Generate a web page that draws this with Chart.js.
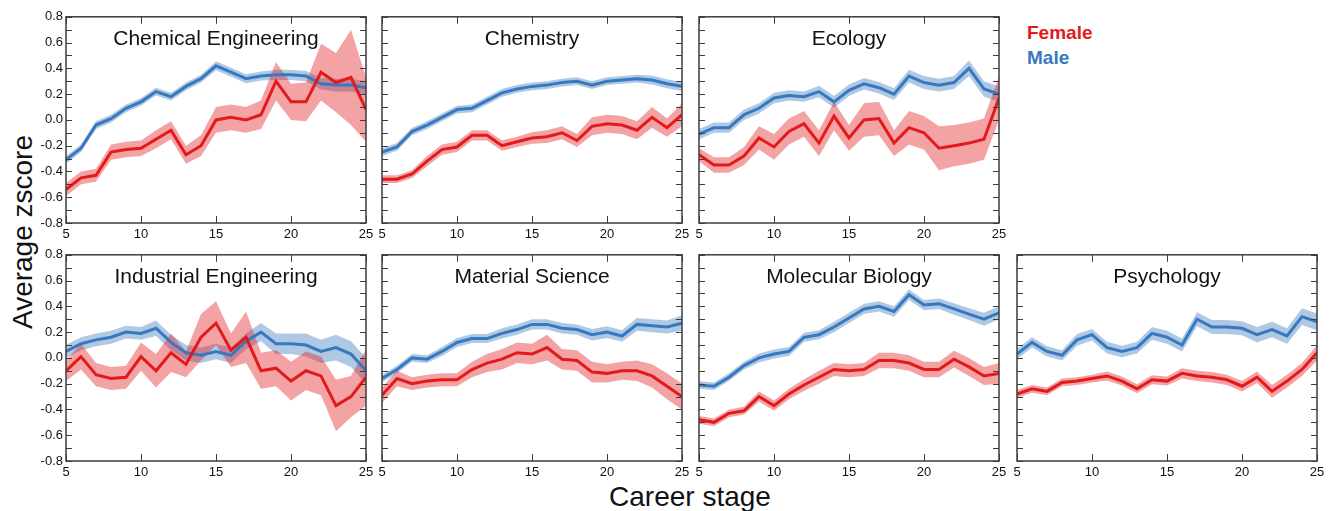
<!DOCTYPE html>
<html>
<head>
<meta charset="utf-8">
<script src="https://cdn.jsdelivr.net/npm/chart.js@4/dist/chart.umd.min.js"></script>
<style>
  html, body { margin: 0; padding: 0; background: #fff; }
  #wrap { position: relative; width: 1334px; height: 511px; overflow: hidden; font-family: "Liberation Sans", Arial, sans-serif; }
  canvas { position: absolute; }
  .lab { position: absolute; white-space: nowrap; color: #111; }
</style>
</head>
<body>
<div id="wrap">
  <div class="lab" id="ylab" style="left:23px; top:232px; font-size:28px; transform: translate(-50%,-50%) rotate(-90deg);">Average zscore</div>
  <div class="lab" id="xlab" style="left:690px; top:497px; font-size:28px; transform: translate(-50%,-50%);">Career stage</div>
  <div class="lab" style="left:1027px; top:33px; font-size:19px; font-weight:bold; color:#e31a1c; transform: translateY(-50%);">Female</div>
  <div class="lab" style="left:1027px; top:58px; font-size:19px; font-weight:bold; color:#3778bf; transform: translateY(-50%);">Male</div>
</div>
<script>
// ---------------- DATA ----------------
const careerStage = [5,6,7,8,9,10,11,12,13,14,15,16,17,18,19,20,21,22,23,24,25];
const yTickMin = -0.8, yTickMax = 0.8;
const xTicks = [5, 10, 15, 20, 25];
const seriesNames = ["Female", "Male"];

const chemEngFemale    = [-0.54,-0.45,-0.43,-0.25,-0.23,-0.22,-0.15,-0.08,-0.27,-0.20,0.00,0.02,0.00,0.04,0.30,0.14,0.14,0.37,0.29,0.33,0.08];
const chemEngFemaleErr = [0.05,0.05,0.05,0.06,0.06,0.06,0.07,0.07,0.07,0.08,0.10,0.10,0.10,0.11,0.15,0.14,0.15,0.22,0.23,0.37,0.25];
const chemEngMale      = [-0.31,-0.22,-0.04,0.01,0.09,0.14,0.22,0.18,0.26,0.32,0.42,0.37,0.32,0.34,0.35,0.35,0.34,0.28,0.27,0.27,0.25];
const chemEngMaleErr   = [0.03,0.03,0.03,0.03,0.03,0.03,0.03,0.03,0.03,0.03,0.035,0.035,0.035,0.035,0.04,0.04,0.04,0.045,0.05,0.05,0.05];

const chemistryFemale    = [-0.46,-0.46,-0.42,-0.32,-0.23,-0.21,-0.12,-0.12,-0.20,-0.17,-0.14,-0.13,-0.10,-0.16,-0.05,-0.03,-0.04,-0.08,0.02,-0.06,0.04];
const chemistryFemaleErr = [0.03,0.03,0.03,0.04,0.04,0.04,0.04,0.04,0.04,0.04,0.045,0.05,0.05,0.05,0.07,0.07,0.07,0.07,0.08,0.07,0.09];
const chemistryMale      = [-0.25,-0.21,-0.09,-0.04,0.02,0.08,0.09,0.15,0.21,0.24,0.26,0.27,0.29,0.30,0.27,0.30,0.31,0.32,0.31,0.28,0.26];
const chemistryMaleErr   = [0.03,0.03,0.03,0.03,0.03,0.03,0.03,0.03,0.03,0.03,0.03,0.03,0.03,0.03,0.03,0.03,0.03,0.03,0.035,0.035,0.035];

const ecologyFemale    = [-0.27,-0.35,-0.35,-0.28,-0.14,-0.21,-0.09,-0.03,-0.18,0.03,-0.14,0.00,0.01,-0.18,-0.06,-0.10,-0.22,-0.20,-0.18,-0.15,0.17];
const ecologyFemaleErr = [0.05,0.06,0.06,0.07,0.09,0.10,0.10,0.10,0.10,0.11,0.10,0.13,0.13,0.10,0.13,0.13,0.17,0.16,0.16,0.16,0.17];
const ecologyMale      = [-0.11,-0.06,-0.06,0.04,0.09,0.17,0.19,0.18,0.22,0.14,0.23,0.28,0.25,0.20,0.34,0.29,0.27,0.29,0.40,0.24,0.20];
const ecologyMaleErr   = [0.04,0.04,0.04,0.04,0.04,0.04,0.04,0.04,0.045,0.045,0.045,0.045,0.045,0.045,0.05,0.05,0.05,0.05,0.06,0.06,0.06];

const industrialFemale    = [-0.10,0.01,-0.13,-0.16,-0.15,0.01,-0.10,0.04,-0.05,0.16,0.27,0.06,0.16,-0.10,-0.08,-0.18,-0.10,-0.14,-0.37,-0.30,-0.15];
const industrialFemaleErr = [0.08,0.10,0.09,0.09,0.09,0.11,0.13,0.15,0.10,0.18,0.17,0.13,0.20,0.14,0.14,0.15,0.15,0.15,0.20,0.16,0.22];
const industrialMale      = [0.05,0.11,0.14,0.16,0.20,0.19,0.23,0.12,0.04,0.02,0.05,0.02,0.13,0.20,0.11,0.11,0.10,0.05,0.08,0.03,-0.10];
const industrialMaleErr   = [0.05,0.05,0.05,0.05,0.05,0.05,0.06,0.06,0.06,0.06,0.06,0.06,0.06,0.07,0.08,0.08,0.09,0.09,0.10,0.10,0.10];

const materialFemale    = [-0.29,-0.16,-0.20,-0.18,-0.17,-0.17,-0.09,-0.04,-0.01,0.04,0.03,0.08,-0.01,-0.02,-0.11,-0.12,-0.10,-0.10,-0.14,-0.22,-0.30];
const materialFemaleErr = [0.06,0.06,0.05,0.05,0.05,0.05,0.06,0.07,0.08,0.08,0.08,0.10,0.08,0.08,0.08,0.07,0.07,0.08,0.09,0.10,0.10];
const materialMale      = [-0.16,-0.09,0.00,-0.01,0.05,0.12,0.15,0.15,0.19,0.22,0.26,0.26,0.23,0.22,0.18,0.20,0.17,0.26,0.25,0.24,0.27];
const materialMaleErr   = [0.03,0.03,0.03,0.03,0.035,0.035,0.035,0.035,0.04,0.04,0.04,0.04,0.04,0.04,0.045,0.045,0.045,0.05,0.05,0.05,0.06];

const molbioFemale    = [-0.48,-0.50,-0.43,-0.41,-0.30,-0.37,-0.28,-0.21,-0.15,-0.09,-0.10,-0.09,-0.02,-0.02,-0.04,-0.09,-0.09,-0.01,-0.07,-0.14,-0.12];
const molbioFemaleErr = [0.03,0.03,0.03,0.03,0.04,0.04,0.04,0.045,0.05,0.05,0.05,0.05,0.06,0.06,0.06,0.06,0.06,0.065,0.07,0.07,0.08];
const molbioMale      = [-0.21,-0.22,-0.15,-0.06,0.00,0.03,0.05,0.16,0.18,0.24,0.31,0.38,0.40,0.36,0.49,0.41,0.42,0.38,0.34,0.30,0.35];
const molbioMaleErr   = [0.03,0.03,0.03,0.03,0.035,0.035,0.035,0.035,0.035,0.04,0.04,0.04,0.04,0.04,0.04,0.04,0.04,0.045,0.045,0.05,0.05];

const psychFemale    = [-0.28,-0.24,-0.26,-0.19,-0.18,-0.16,-0.14,-0.18,-0.24,-0.17,-0.18,-0.12,-0.14,-0.15,-0.17,-0.22,-0.15,-0.26,-0.18,-0.09,0.04];
const psychFemaleErr = [0.03,0.03,0.03,0.03,0.03,0.03,0.035,0.035,0.035,0.035,0.035,0.04,0.04,0.04,0.04,0.04,0.045,0.05,0.05,0.05,0.06];
const psychMale      = [0.03,0.12,0.05,0.02,0.14,0.18,0.08,0.05,0.08,0.19,0.16,0.10,0.30,0.24,0.24,0.23,0.18,0.22,0.17,0.32,0.28];
const psychMaleErr   = [0.04,0.04,0.04,0.04,0.045,0.045,0.045,0.045,0.045,0.05,0.05,0.05,0.055,0.055,0.055,0.055,0.06,0.06,0.06,0.065,0.065];

const panelTitles = ["Chemical Engineering", "Chemistry", "Ecology", "Industrial Engineering", "Material Science", "Molecular Biology", "Psychology"];

// ---------------- STYLE / LAYOUT ----------------
const RED = '#e31a1c', BLUE = '#3778bf';
const RED_BAND = 'rgba(227,26,28,0.40)', BLUE_BAND = 'rgba(55,120,191,0.40)';
const FONT = '"Liberation Sans", Arial, sans-serif';
const colLeft = [66, 382, 699, 1017];
const rowTop = [14, 252];
const PW = 300, PH = 209;
const PADL = 44, PADT = 8, PADR = 14, PADB = 24;

const panels = [
  { title: panelTitles[0], f: chemEngFemale, fe: chemEngFemaleErr, m: chemEngMale, me: chemEngMaleErr, col: 0, row: 0 },
  { title: panelTitles[1], f: chemistryFemale, fe: chemistryFemaleErr, m: chemistryMale, me: chemistryMaleErr, col: 1, row: 0 },
  { title: panelTitles[2], f: ecologyFemale, fe: ecologyFemaleErr, m: ecologyMale, me: ecologyMaleErr, col: 2, row: 0 },
  { title: panelTitles[3], f: industrialFemale, fe: industrialFemaleErr, m: industrialMale, me: industrialMaleErr, col: 0, row: 1 },
  { title: panelTitles[4], f: materialFemale, fe: materialFemaleErr, m: materialMale, me: materialMaleErr, col: 1, row: 1 },
  { title: panelTitles[5], f: molbioFemale, fe: molbioFemaleErr, m: molbioMale, me: molbioMaleErr, col: 2, row: 1 },
  { title: panelTitles[6], f: psychFemale, fe: psychFemaleErr, m: psychMale, me: psychMaleErr, col: 3, row: 1 },
];

const framePlugin = {
  id: 'frame',
  afterDatasetsDraw(chart) {
    const { ctx, chartArea: a, scales } = chart;
    ctx.save();
    ctx.strokeStyle = '#3c3c3c';
    ctx.lineWidth = 1;
    // inward ticks on y (both sides)
    scales.y.ticks.forEach(t => {
      const y = Math.round(scales.y.getPixelForValue(t.value)) + 0.5;
      ctx.beginPath();
      ctx.moveTo(a.left, y); ctx.lineTo(a.left + 6, y);
      ctx.moveTo(a.right, y); ctx.lineTo(a.right - 6, y);
      ctx.stroke();
    });
    // inward ticks on x (top and bottom)
    scales.x.ticks.forEach(t => {
      const x = Math.round(scales.x.getPixelForValue(t.value)) + 0.5;
      ctx.beginPath();
      ctx.moveTo(x, a.top); ctx.lineTo(x, a.top + 7);
      ctx.moveTo(x, a.bottom); ctx.lineTo(x, a.bottom - 7);
      ctx.stroke();
    });
    ctx.lineWidth = 1.5;
    ctx.strokeRect(a.left, a.top, a.width, a.height);
    // panel title
    ctx.fillStyle = '#111';
    ctx.font = '21px ' + FONT;
    ctx.textAlign = 'center';
    ctx.textBaseline = 'middle';
    ctx.fillText(chart.options.plugins.frame.title, (a.left + a.right) / 2, a.top + 22);
    ctx.restore();
  }
};

const wrap = document.getElementById('wrap');
panels.forEach((p, idx) => {
  const cv = document.createElement('canvas');
  const w = PW + PADL + PADR, h = PH + PADT + PADB;
  cv.width = w; cv.height = h;
  cv.style.left = (colLeft[p.col] - PADL) + 'px';
  cv.style.top = (rowTop[p.row] - PADT) + 'px';
  cv.style.width = w + 'px'; cv.style.height = h + 'px';
  wrap.appendChild(cv);
  const showY = p.col === 0;
  const pts = (vals) => careerStage.map((x, i) => ({ x, y: vals[i] }));
  const band = (vals, err, s) => careerStage.map((x, i) => ({ x, y: vals[i] + s * err[i] }));
  const common = { pointRadius: 0, pointHoverRadius: 0, tension: 0 };
  new Chart(cv, {
    type: 'line',
    data: {
      datasets: [
        { label: seriesNames[0], data: pts(p.f), borderColor: RED, borderWidth: 3, fill: false, ...common },
        { label: seriesNames[1], data: pts(p.m), borderColor: BLUE, borderWidth: 3, fill: false, ...common },
        { label: 'F hi', data: band(p.f, p.fe, 1), borderWidth: 0, borderColor: 'rgba(0,0,0,0)', backgroundColor: RED_BAND, fill: '+1', ...common },
        { label: 'F lo', data: band(p.f, p.fe, -1), borderWidth: 0, borderColor: 'rgba(0,0,0,0)', fill: false, ...common },
        { label: 'M hi', data: band(p.m, p.me, 1), borderWidth: 0, borderColor: 'rgba(0,0,0,0)', backgroundColor: BLUE_BAND, fill: '+1', ...common },
        { label: 'M lo', data: band(p.m, p.me, -1), borderWidth: 0, borderColor: 'rgba(0,0,0,0)', fill: false, ...common },
      ]
    },
    options: {
      responsive: false,
      animation: false,
      devicePixelRatio: 1,
      events: [],
      layout: { padding: { left: 0, top: PADT, right: PADR, bottom: 0 } },
      plugins: { legend: { display: false }, tooltip: { enabled: false }, title: { display: false }, frame: { title: p.title } },
      scales: {
        x: {
          type: 'linear', min: careerStage[0], max: careerStage[careerStage.length - 1],
          afterBuildTicks: s => { s.ticks = xTicks.map(v => ({ value: v })); },
          afterFit: s => { s.height = PADB; },
          grid: { display: false, drawTicks: false },
          border: { display: false },
          ticks: { padding: 4, color: '#111', font: { family: FONT, size: 13 }, maxRotation: 0, autoSkip: false }
        },
        y: {
          type: 'linear', min: yTickMin, max: yTickMax,
          afterFit: s => { s.width = PADL; },
          grid: { display: false, drawTicks: false },
          border: { display: false },
          ticks: {
            stepSize: 0.1, padding: 3, color: '#111', font: { family: FONT, size: 13 }, autoSkip: false,
            callback: v => {
              if (!showY) return '';
              const k = Math.round(v * 10);
              if (k % 2 !== 0) return '';
              return (k === 0 ? 0 : k / 10).toFixed(1);
            }
          }
        }
      }
    },
    plugins: [framePlugin]
  });
});
</script>
</body>
</html>
